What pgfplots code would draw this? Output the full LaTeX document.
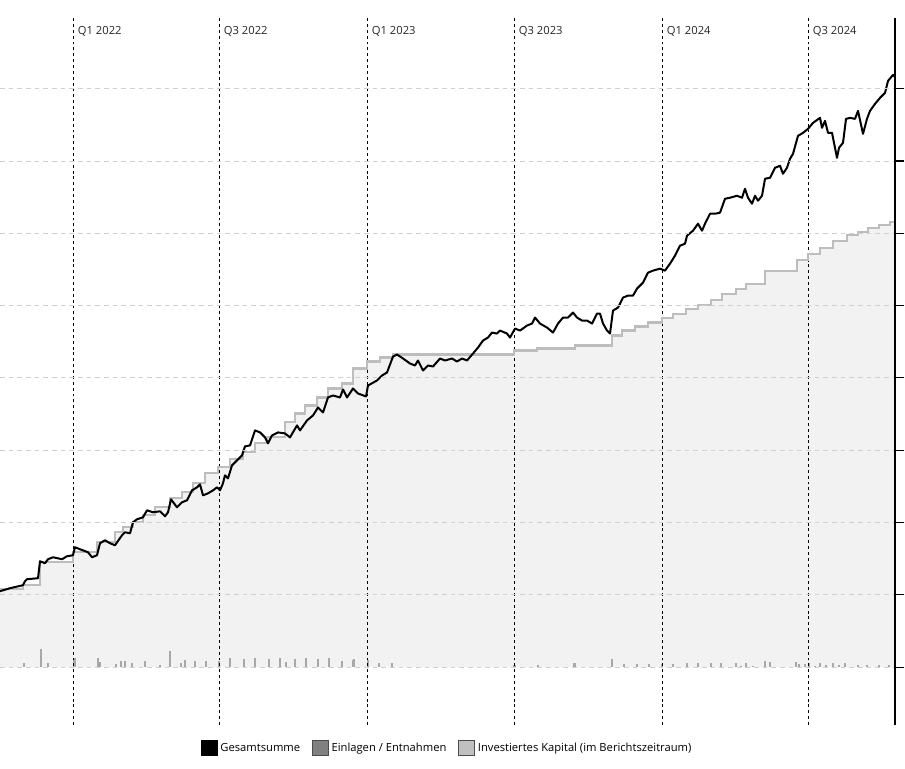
\documentclass[border=0pt]{standalone}
\usepackage{fontspec}
\setmainfont{Open Sans}
\usepackage{pgfplots}
\pgfplotsset{compat=1.18}
\definecolor{fillgray}{HTML}{F2F2F2}
\definecolor{capgray}{HTML}{BDBDBD}
\definecolor{bargray}{HTML}{A8A8A8}
\definecolor{gridgray}{HTML}{D0D0D0}
\definecolor{leggray}{HTML}{808080}
\definecolor{legcap}{HTML}{C0C0C0}
\begin{document}
\begin{tikzpicture}[x=1pt,y=1pt]
\useasboundingbox (0,0) rectangle (678.75,576);
\begin{axis}[at={(0pt,32.25pt)}, anchor=south west, scale only axis,
  width=671.25pt, height=530.25pt,
  xmin=0, xmax=895, ymin=-58, ymax=650,
  axis x line=none, axis y line=right, axis line style={-, line width=0.8pt, black},
  xtick=\empty, ytick={0,72.4,144.8,217.2,289.6,362,434.4,506.8,579.2}, yticklabels={},
  tick align=outside, major tick length=7pt, tick style={line width=0.8pt, black},
  ymajorgrids, grid style={gridgray, dash pattern=on 3.5pt off 3pt, line width=0.6pt},
  axis on top,
  legend columns=3,
  legend style={at={(axis description cs:0.5,-0.0325)}, anchor=center, draw=none, fill=none,
    font=\fontsize{8.4}{10}\selectfont, inner sep=0pt,
    /tikz/every even column/.append style={column sep=7pt}},
  legend cell align=left,
]
% invested capital area
\addplot[const plot, fill=fillgray, draw=none, forget plot] coordinates {
(0,78) (23,82) (40,105) (73,115) (97,125) (115,135) (123,140) (133,145) (143,152) (155,160) (170,169) (182,175) (193,184) (205,194) (218,200) (230,208) (243,215) (255,224) (267,230) (285,245) (295,254) (305,262) (317,270) (328,279) (342,284) (353,299) (367,306) (380,310) (393,313) (514,317) (537,319) (575,322) (612,332) (622,337) (635,341) (648,345) (662,350) (673,354) (686,359) (698,363) (711,368) (722,374) (736,379) (746,384) (765,397) (797,408) (808,414) (820,420) (833,427) (847,433) (858,436) (868,440) (879,443) (890,446) (895,446)
} \closedcycle;
% deposits / withdrawals
\addplot[ycomb, bargray, line width=1.8pt, no marks, forget plot] coordinates {
(24,3.7) (40.7,17.7) (47.7,3.7) (74.3,8.7) (97.7,8.7) (99.7,5) (115.7,2.7) (120.7,5.7) (125,5.7) (131.7,3.7) (144.7,5.7) (160,1.7) (170,15.7) (180.7,3.7) (184.7,6.7) (194.7,5.7) (206,5.7) (218.7,5.7) (229.7,8.7) (243.7,7.7) (254.7,8.7) (268.7,7.7) (279.7,8.7) (285.7,4.7) (295,7.7) (305.7,8.7) (317.7,7.7) (328.7,8.7) (341.7,5.7) (352.7,6.7) (354,7.7) (368,6.7) (379,3.7) (391.7,3.7) (514.3,2.3) (537.7,2.3) (574.3,4.3) (612,8.3) (623.7,3.3) (636.7,3.3) (649,3.3) (662,3.3) (673,3.3) (686.7,4.3) (697.7,4.3) (710.7,4.3) (720.7,4.3) (735.7,4.3) (740.7,1.3) (745.7,4.3) (752.7,1.3) (764.7,6.3) (769.7,5.3) (795.7,5.3) (798.7,3.3) (804.7,3.3) (808.7,4.3) (814.7,1.3) (819.7,4.3) (825.7,2.3) (832.7,4.3) (838.7,2.3) (844.7,4.3) (857.7,2.3) (866.7,2.3) (878.7,2.3) (888.7,2.3)
};
% quarter lines
\foreach \q/\lab in {73/Q1 2022, 219/Q3 2022, 367/Q1 2023, 514/Q3 2023, 662/Q1 2024, 808/Q3 2024} {
  \edef\temp{\noexpand\draw[black, line width=0.75pt, dash pattern=on 2.2pt off 2.2pt] (axis cs:\q,-58) -- (axis cs:\q,651);
    \noexpand\node[anchor=west, inner sep=0pt, font=\noexpand\fontsize{8.4}{10}\noexpand\selectfont, text=black!85] at (axis cs:\q,637) {\noexpand\hspace{3.5pt}\lab};}
  \temp
}
% invested capital line
\addplot[const plot, capgray, line width=1.6pt, forget plot] coordinates {
(0,78) (23,82) (40,105) (73,115) (97,125) (115,135) (123,140) (133,145) (143,152) (155,160) (170,169) (182,175) (193,184) (205,194) (218,200) (230,208) (243,215) (255,224) (267,230) (285,245) (295,254) (305,262) (317,270) (328,279) (342,284) (353,299) (367,306) (380,310) (393,313) (514,317) (537,319) (575,322) (612,332) (622,337) (635,341) (648,345) (662,350) (673,354) (686,359) (698,363) (711,368) (722,374) (736,379) (746,384) (765,397) (797,408) (808,414) (820,420) (833,427) (847,433) (858,436) (868,440) (879,443) (890,446) (895,446)
};
% total
\addplot[black, line width=1.5pt, line join=round, forget plot] coordinates {
(0,76) (10,79) (23,82) (25,86) (27,88) (38,89) (40,106) (45,104) (48,108) (53,110) (62,108) (67,111) (73,112) (75,120) (80,118) (88,115) (92,110) (97,112) (100,124) (105,127) (110,124) (115,122) (122,132) (125,135) (130,134) (133,145) (137,148) (143,150) (147,157) (153,155) (160,156) (165,151) (168,155) (171,168) (177,160) (182,165) (187,167) (192,177) (197,180) (200,183) (203,172) (208,174) (213,177) (217,180) (220,177) (223,184) (225,192) (228,189) (232,202) (237,207) (242,212) (245,221) (250,222) (255,237) (260,235) (265,230) (268,224) (272,232) (278,235) (285,234) (290,230) (297,242) (300,237) (307,247) (313,252) (318,260) (323,255) (328,270) (333,272) (340,270) (343,278) (347,270) (353,279) (358,274) (366,271) (368,282) (377,287) (382,292) (387,295) (393,311) (397,313) (403,309) (410,304) (415,302) (418,307) (423,297) (428,302) (433,301) (440,309) (445,307) (452,309) (457,306) (462,309) (467,307) (473,314) (478,320) (483,327) (488,330) (492,335) (497,334) (500,337) (507,334) (510,330) (515,339) (520,337) (527,342) (532,344) (535,350) (540,344) (547,340) (553,335) (558,344) (563,350) (568,350) (573,355) (577,350) (582,347) (587,347) (592,344) (597,354) (600,354) (603,344) (607,337) (610,334) (613,357) (618,360) (623,370) (628,372) (633,372) (637,379) (643,385) (648,395) (653,397) (660,399) (665,397) (670,404) (675,412) (680,422) (685,424) (687,432) (693,437) (698,444) (702,437) (705,444) (710,454) (715,454) (720,455) (725,469) (730,470) (737,472) (742,470) (745,479) (748,470) (752,464) (755,472) (758,467) (762,472) (765,489) (770,490) (775,500) (780,502) (783,494) (787,500) (790,509) (793,514) (798,532) (803,535) (808,539) (813,545) (820,550) (822,540) (825,547) (828,535) (832,535) (835,520) (837,510) (839,520) (843,525) (846,549) (850,550) (855,549) (858,557) (863,534) (867,549) (870,557) (875,564) (880,570) (885,575) (888,587) (893,593) (895,591)
};
\addlegendimage{legend image code/.code={\draw[fill=black, draw=black, line width=0.6pt] (0pt,-5.9pt) rectangle (12pt,5.9pt);}}
\addlegendentry{Gesamtsumme}
\addlegendimage{legend image code/.code={\draw[fill=leggray, draw=black!70, line width=0.6pt] (0pt,-5.9pt) rectangle (12pt,5.9pt);}}
\addlegendentry{Einlagen / Entnahmen}
\addlegendimage{legend image code/.code={\draw[fill=legcap, draw=black!70, line width=0.6pt] (0pt,-5.9pt) rectangle (12pt,5.9pt);}}
\addlegendentry{Investiertes Kapital (im Berichtszeitraum)}
\end{axis}
\end{tikzpicture}
\end{document}
